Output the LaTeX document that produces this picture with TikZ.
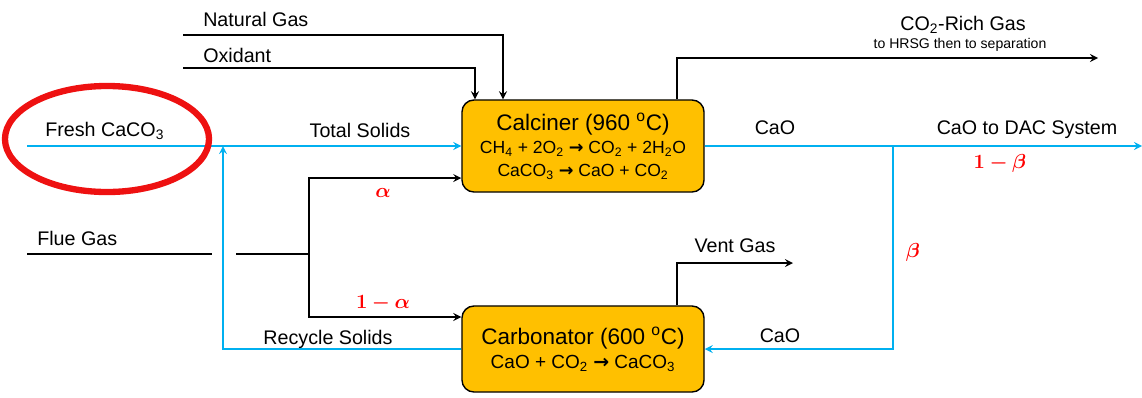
\documentclass[tikz,border=0pt]{standalone}
\usepackage{fontspec}
\usepackage{amsmath,bm}
\setmainfont{Liberation Sans}
\newfontfamily\arrowfont{DejaVu Sans}
\usetikzlibrary{positioning,shapes.geometric}
\definecolor{solidblue}{HTML}{00B0F0}
\definecolor{unitfill}{HTML}{FFC000}
\definecolor{ringred}{HTML}{EE1111}
\definecolor{splitred}{HTML}{FF0000}
\newcommand{\yields}{{\arrowfont\bfseries\symbol{"2192}}}
\newcommand{\titlefont}{\fontsize{16}{18}\selectfont}
\newcommand{\eqfont}{\fontsize{12.5}{15}\selectfont}
\tikzset{
	unit/.style={draw=black,line width=1pt,fill=unitfill,rounded corners=0.3cm,
		minimum width=6.05cm,align=center,inner sep=0pt,font=\eqfont},
	gasline/.style={line width=1.5pt,black},
	solidline/.style={line width=1.5pt,solidblue},
	lbl/.style={inner sep=0pt,font=\fontsize{14}{16}\selectfont},
	note/.style={inner sep=0pt,font=\fontsize{10}{12}\selectfont},
	splitlbl/.style={inner sep=0pt,text=splitred,font=\fontsize{14}{16}\selectfont}
}
\begin{document}
\begin{tikzpicture}[>=stealth,x=0.025cm,
	y=-0.025cm]
	\def \W{1142}
	\def \H{397}
	\useasboundingbox (0,0) rectangle (\W,\H);
	% Hai lò phản ứng
	\node[unit,minimum height=2.3cm] (calc) at (583,146)
	{{\titlefont Calciner (960 \textsuperscript{o}C)}\\[2pt]
		CH\textsubscript{4} + 2O\textsubscript{2} \yields{} CO\textsubscript{2} + 2H\textsubscript{2}O\\[1pt]
		CaCO\textsubscript{3} \yields{} CaO + CO\textsubscript{2}};
	\node[unit,minimum height=2.15cm] (carb) at (583,349)
	{{\titlefont Carbonator (600 \textsuperscript{o}C)}\\[2pt]
		{\fontsize{13.5}{15}\selectfont CaO + CO\textsubscript{2} \yields{} CaCO\textsubscript{3}}};
	% Điểm đầu, điểm cuối các dòng
	\coordinate (ng) at (183,35);
	\coordinate (ox) at (183,68);
	\coordinate (co2end) at (1098,58);
	\coordinate (fresh) at (27,146);
	\coordinate (rec) at (223,349);
	\coordinate (flue) at (27,254);
	\coordinate (flueend) at (212,254);
	\coordinate (fluesplit) at (236,254);
	\coordinate (split) at (309,254);
	\coordinate (dac) at (1142,146);
	\coordinate (tee) at (893,146);
	\coordinate (ventend) at (793,263);
	% Dòng khí
	\draw[gasline,->] (ng) -| ([xshift=-2cm]calc.north);
	\draw[gasline,->] (ox) -| ([xshift=-2.7cm]calc.north);
	\draw[gasline,->] ([xshift=2.35cm]calc.north) |- (co2end);
	\draw[gasline] (flue) -- (flueend);
	\draw[gasline] (fluesplit) -- (split);
	\draw[gasline,->] (split) |- ([yshift=-0.8cm]calc.west);
	\draw[gasline,->] (split) |- ([yshift=0.8cm]carb.west);
	\draw[gasline,->] ([xshift=2.35cm]carb.north) |- (ventend);
	% Dòng chất rắn
	\draw[solidline,->] (fresh) -- (calc.west);
	\draw[solidline,->] (carb.west) -- (rec) -- (rec |- fresh);
	\draw[solidline,->] (calc.east) -- (dac);
	\draw[solidline,->] (tee) |- (carb.east);
	% Vòng đỏ
	\node[draw=ringred,line width=4.5pt,ellipse,inner sep=0pt,
	minimum width=5.1cm,minimum height=2.65cm] (ring) at (107,139) {};
	% Nhãn
	\node[lbl,anchor=west] (ngtxt) at (203,19) {Natural Gas};
	\node[lbl,anchor=west] (oxtxt) at (203,55) {Oxidant};
	\node[lbl] (co2txt) at (963,25) {CO\textsubscript{2}-Rich Gas};
	\node[note] (hrsgtxt) at (960,45) {to HRSG then to separation};
	\node[lbl,anchor=west] (freshtxt) at (45,131) {Fresh CaCO\textsubscript{3}};
	\node[lbl] (totaltxt) at (360,130) {Total Solids};
	\node[lbl] (caotop) at (775,128) {CaO};
	\node[lbl] (dactxt) at (1027,130) {CaO to DAC System};
	\node[splitlbl] (onebeta) at (1000,163) {$\bm{1-\beta}$};
	\node[splitlbl] (alphatxt) at (383,193) {$\bm{\alpha}$};
	\node[lbl,anchor=west] (fluetxt) at (37,238) {Flue Gas};
	\node[lbl] (venttxt) at (735,246) {Vent Gas};
	\node[splitlbl] (betatxt) at (913,252) {$\bm{\beta}$};
	\node[splitlbl] (onealpha) at (383,303) {$\bm{1-\alpha}$};
	\node[lbl] (rectxt) at (328,339) {Recycle Solids};
	\node[lbl] (caobot) at (780,336) {CaO};
\end{tikzpicture}
\end{document}
